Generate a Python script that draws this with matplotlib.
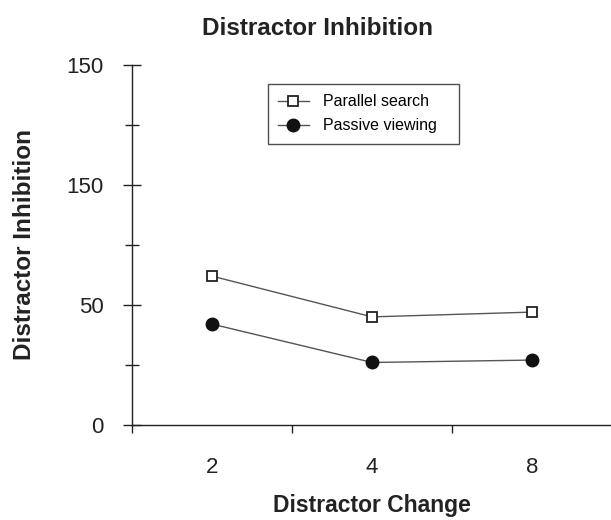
import numpy as np
import matplotlib.pyplot as plt

plt.rcParams['font.family'] = ['Liberation Sans', 'DejaVu Sans']

# Data
set_size = ['2', '4', '8']
parallel_search = [62, 45, 47]
passive_viewing = [42, 26, 27]
y_ticks = [0, 50, 100, 150]
y_tick_labels = ['0', '50', '150', '150']

x = np.arange(len(set_size)) + 0.5

fig = plt.figure(figsize=(6.11, 5.20), dpi=100)
ax = fig.add_axes([0.216, 0.183, 0.786, 0.692])

ax.plot(x, parallel_search, color='#555555', lw=1, marker='s', ms=7,
        mfc='white', mec='#222222', mew=1.3, label='Parallel search', clip_on=False)
ax.plot(x, passive_viewing, color='#555555', lw=1, marker='o', ms=9,
        mfc='#111111', mec='#111111', label='Passive viewing', clip_on=False)

ax.set_xlim(0, 3)
ax.set_ylim(0, 150)

for s in ['top', 'right']:
    ax.spines[s].set_visible(False)
for s in ['left', 'bottom']:
    ax.spines[s].set_color('#222222')
    ax.spines[s].set_linewidth(1)

# y ticks cross the axis
ax.set_yticks(y_ticks)
ax.set_yticklabels(y_tick_labels)
ax.set_yticks([25, 75, 125], minor=True)
ax.tick_params(axis='y', which='major', direction='inout', length=13, width=1,
               labelsize=16, pad=14, color='#222222', labelcolor='#222222')
ax.tick_params(axis='y', which='minor', direction='inout', length=9.5, width=1,
               color='#222222')

# x ticks at category boundaries, labels in between
ax.set_xticks([0, 1, 2, 3])
ax.set_xticklabels([])
ax.set_xticks(x, minor=True)
ax.set_xticklabels(set_size, minor=True)
ax.tick_params(axis='x', which='major', direction='out', length=6, width=1,
               color='#222222')
ax.tick_params(axis='x', which='minor', length=0, labelsize=16, pad=23,
               labelcolor='#222222')

ax.set_xlabel('Distractor Change', fontsize=16.5, fontweight='bold', labelpad=12,
              color='#222222')
ax.set_ylabel('Distractor Inhibition', fontsize=17.5, fontweight='bold', labelpad=22,
              color='#222222')

fig.text(0.519, 1 - 35 / 520, 'Distractor Inhibition', ha='center', va='baseline',
         fontsize=17.5, fontweight='bold', color='#222222')

leg = ax.legend(loc='upper left', bbox_to_anchor=(0.283, 0.947, 0.398, 0.0),
                mode='expand', fontsize=11.5, frameon=True, fancybox=False,
                handlelength=1.9, handletextpad=0.9, borderpad=0.65,
                labelspacing=0.55, borderaxespad=0)
leg.get_frame().set_edgecolor('#222222')
leg.get_frame().set_linewidth(1)

fig.savefig('out.png', dpi=100)
